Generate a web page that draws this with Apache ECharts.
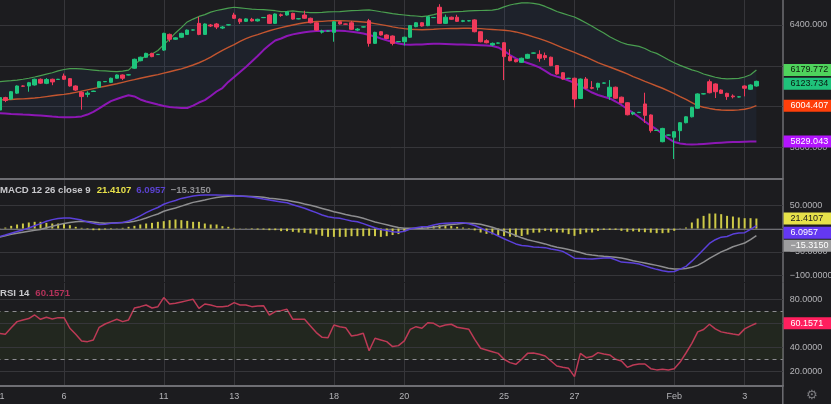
<!DOCTYPE html>
<html><head><meta charset="utf-8">
<script src="https://cdn.jsdelivr.net/npm/echarts@6/dist/echarts.min.js"></script>
<style>html,body{margin:0;padding:0;background:#1c1c1f;}#c{width:831px;height:404px;}</style>
</head><body><div id="c"></div>
<script>
// ---------- data ----------
const tickLabels = ['1','6','11','13','18','20','25','27','Feb','3'];
const tickIndex  = [0,11,28,40,57,69,86,98,115,127];

const openP = [5983,6044,6037,6066,6101,6101,6106,6134,6114,6134,
 6133,6150,6137,6101,6070,6060,6074,6095,6122,6119,
 6139,6155,6155,6188,6225,6242,6261,6255,6277,6354,
 6330,6340,6354,6375,6408,6354,6400,6405,6385,6400,
 6449,6429,6418,6428,6420,6436,6449,6408,6450,6449,
 6457,6430,6449,6433,6411,6365,6370,6364,6416,6405,
 6411,6375,6390,6421,6310,6367,6351,6346,6318,6318,
 6340,6392,6411,6397,6436,6487,6408,6438,6438,6418,
 6420,6425,6367,6323,6302,6311,6313,6245,6230,6217,
 6237,6262,6256,6250,6242,6201,6166,6138,6139,6040,
 6135,6093,6095,6115,6049,6095,6046,6019,5964,5971,
 6013,5959,5883,5828,5860,5850,5882,5921,5950,5992,
 6062,6122,6111,6081,6065,6052,6047,6101,6085,6101];
const closeP = [6044,6030,6073,6101,6100,6117,6134,6115,6133,6121,
 6134,6134,6101,6081,6049,6066,6076,6122,6123,6139,
 6155,6139,6156,6232,6242,6261,6245,6256,6359,6330,
 6337,6359,6375,6376,6354,6405,6395,6390,6390,6401,
 6433,6416,6430,6420,6428,6437,6408,6454,6447,6465,
 6429,6431,6433,6411,6375,6370,6371,6416,6405,6404,
 6379,6380,6391,6310,6364,6351,6334,6310,6319,6340,
 6397,6411,6395,6441,6437,6408,6438,6428,6418,6421,
 6421,6367,6318,6313,6310,6312,6245,6225,6220,6237,
 6256,6263,6237,6240,6201,6160,6135,6139,6037,6135,
 6090,6090,6114,6116,6095,6041,6019,5960,5970,5972,
 5957,5882,5884,5893,5861,5877,5921,5950,5996,6062,
 6063,6068,6073,6065,6049,6048,6048,6090,6106,6123.734];
const lowP = [5975,6022,6032,6062,6097,6073,6103,6111,6110,6105,
 6131,6131,6098,6077,5985,6046,6072,6092,6120,6116,
 6136,6130,6153,6185,6222,6239,6242,6253,6273,6318,
 6327,6337,6351,6373,6350,6351,6390,6380,6380,6398,
 6430,6405,6415,6417,6417,6434,6405,6405,6440,6446,
 6426,6428,6430,6408,6372,6358,6368,6318,6402,6402,
 6376,6370,6388,6294,6307,6348,6331,6300,6316,6300,
 6337,6389,6392,6394,6434,6405,6405,6425,6415,6414,
 6418,6364,6315,6310,6296,6309,6130,6222,6217,6214,
 6234,6260,6220,6228,6198,6157,6132,6136,5996,6037,
 6087,6085,6080,6113,6033,6038,6016,5957,5958,5969,
 5920,5872,5881,5825,5858,5743,5830,5918,5947,5989,
 6060,6065,6042,6062,6033,6040,6045,6050,6082,6098];
const highP = [6048,6048,6076,6104,6104,6121,6137,6138,6140,6137,
 6136,6162,6140,6104,6075,6075,6078,6125,6125,6142,
 6158,6158,6158,6235,6245,6264,6264,6258,6362,6358,
 6340,6362,6378,6378,6440,6408,6405,6410,6395,6403,
 6460,6432,6433,6435,6431,6439,6452,6457,6456,6468,
 6460,6433,6470,6436,6414,6377,6373,6419,6419,6407,
 6420,6385,6393,6430,6367,6370,6354,6349,6321,6343,
 6400,6414,6414,6444,6439,6502,6451,6441,6450,6425,
 6423,6428,6370,6330,6314,6314,6316,6281,6233,6240,
 6259,6265,6276,6265,6245,6204,6169,6141,6142,6138,
 6145,6125,6117,6118,6130,6098,6049,6022,5976,5974,
 6068,5962,5886,5896,5863,5880,5924,5953,5999,6065,
 6065,6133,6114,6084,6068,6060,6050,6104,6109,6127];

const bbUpper = [6122,6125,6127,6130,6134,6139,6145,6152,6159,6166,
 6175,6182,6186,6186,6185,6182,6179,6176,6175,6173,
 6171,6174,6179,6207,6228,6250,6258,6275,6304,6331,
 6361,6387,6415,6429,6442,6451,6463,6471,6477,6483,
 6487,6484,6481,6478,6476,6475,6473,6470,6466,6467,
 6469,6466,6463,6461,6461,6462,6464,6465,6466,6468,
 6470,6471,6473,6474,6470,6465,6461,6456,6452,6449,
 6446,6444,6441,6445,6451,6458,6462,6464,6466,6467,
 6469,6470,6471,6472,6473,6478,6489,6498,6504,6508,
 6509,6506,6501,6491,6479,6466,6457,6448,6439,6425,
 6410,6394,6377,6361,6342,6328,6314,6305,6300,6295,
 6285,6270,6261,6246,6230,6215,6202,6191,6180,6172,
 6160,6152,6144,6138,6136,6137,6138,6145,6156,6179.772];
const bbMiddle = [6032,6034,6035,6037,6038,6040,6042,6045,6049,6053,
 6057,6060,6064,6070,6076,6082,6088,6094,6100,6106,
 6112,6119,6126,6132,6139,6145,6151,6157,6164,6171,
 6178,6185,6194,6204,6215,6228,6243,6260,6276,6290,
 6304,6320,6333,6344,6353,6363,6372,6380,6387,6394,
 6400,6406,6411,6415,6417,6418,6420,6421,6421,6420,
 6419,6417,6415,6412,6407,6402,6397,6391,6386,6382,
 6379,6378,6377,6378,6379,6381,6382,6383,6383,6384,
 6384,6383,6382,6380,6378,6376,6374,6371,6366,6359,
 6351,6342,6333,6323,6312,6300,6288,6277,6266,6254,
 6242,6229,6216,6205,6194,6183,6172,6160,6147,6136,
 6124,6113,6101,6090,6077,6064,6049,6035,6020,6005,
 5997,5991,5986,5983,5982,5982,5984,5987,5994,6004.407];
const bbLower = [5967,5966,5964,5963,5961,5960,5958,5956,5954,5951,
 5949,5948,5948,5949,5952,5961,5974,5991,6010,6027,
 6037,6047,6056,6050,6035,6025,6018,6010,6003,5998,
 5995,5993,5993,6005,6020,6032,6052,6074,6091,6121,
 6145,6170,6194,6221,6248,6277,6302,6324,6334,6346,
 6354,6360,6365,6368,6370,6371,6372,6372,6372,6370,
 6367,6363,6358,6351,6344,6334,6325,6317,6309,6304,
 6303,6304,6305,6307,6308,6308,6307,6306,6305,6304,
 6303,6302,6301,6299,6297,6290,6273,6253,6236,6224,
 6214,6204,6192,6175,6157,6147,6139,6128,6116,6101,
 6084,6069,6057,6048,6040,6025,6008,5988,5969,5949,
 5927,5907,5888,5866,5844,5826,5819,5815,5814,5815,
 5817,5819,5821,5823,5825,5826,5827,5828,5829,5829.043];

const macdLine = [-17.5,-14,-10,-6.5,-3,1,6,10.5,15.5,19,
 21.5,22.5,22.5,20.5,18,14,11,8.5,9,11,
 12,13,16,21,27,34,40,45,52,56.5,
 60,64.5,67,69.5,71,72,72,71.8,71.5,71,
 70.5,69.5,68.5,67.5,65.5,63,61,59,57,55,
 51,47,43.5,38.5,34,29,25,23,22,19,
 16,14.6,10.5,6,1.5,-2,-4.5,-6.8,-8,-6,
 -1,1.5,3.9,4.5,7.5,10,11.3,12,12.4,12.5,
 10,6.5,1,-5,-10,-16,-22,-27.5,-33,-36.5,
 -37.5,-39.5,-40.3,-41,-44,-46,-49,-56,-63.5,-64,
 -64.8,-65.2,-64,-63,-62.6,-67,-72,-73,-74,-76,
 -80,-84,-87.5,-90.5,-92.5,-92,-87,-81,-70,-58,
 -45,-32,-24,-18.5,-17,-12,-9.5,-9,-2,6.0957];
const macdSignal = [-18.5,-15.5,-12.5,-10,-8,-6,-4,-2,1.5,5,
 8,10.5,13,14.5,15.5,15,14,12.5,11.5,12,
 12.5,13,13.5,15.5,18.5,22.5,27,31,37,40.5,
 44,48,52,56,58.5,61,64,66.5,68,69,
 69.5,69.5,69,68.5,68,66.8,65,63.5,62,60.5,
 58,55.5,52.5,50,46.5,43,39.5,36,33,30,
 27.5,25.3,22,18,14,11,8,5,2,0.4,
 0.4,0.5,0.8,1.5,3,5,7,8.5,9.5,11,
 11.5,10.5,9,6,2.5,-1.5,-5.5,-10,-15,-20,
 -24,-27,-30,-33,-37,-40,-42.4,-45,-48,-51.5,
 -55,-57,-58.5,-59.5,-60.4,-61.5,-63,-66,-69,-71.5,
 -74,-76.5,-79,-82,-85,-86.5,-86.5,-85.5,-83,-79,
 -72,-64,-57,-50,-45,-39,-35,-31,-24,-15.315];
const macdHist = [0.5,2,5.7,8.6,10.7,12.9,14.3,14.3,12.1,10.7,
 10.7,10.7,7.1,3.6,1.4,-1.4,-3.6,-3.6,-2.1,-1.4,
 0.5,1.4,3.6,5.7,8.6,10.7,12.1,14.3,15.7,17.9,
 19.3,17.9,16.4,14.3,14.3,10.7,8.6,8.6,5,3.6,
 1.4,0.5,-0.5,-1.4,-2.1,-2.1,-3.6,-3.6,-5.7,-5.7,
 -7.1,-8.6,-9.3,-10.7,-12.9,-15.7,-17.9,-17.9,-17.9,-17.9,
 -16.4,-16.4,-16.4,-15.7,-16.4,-17.9,-16.4,-14,-12,-7,
 -2,1,3.6,5,5.7,7,7,5.7,3.6,2,
 1,-4,-8.6,-11.5,-12.5,-15,-16,-17.5,-18,-16,
 -13,-9,-8.6,-5,-6.4,-8.6,-8.6,-12.1,-15.7,-12.1,
 -8.6,-8.6,-5,-2.9,-2.9,-2.9,-5,-7,-6,-7,
 -8,-9,-10,-10,-9,-5,0.5,2.1,12.9,21.4,
 27.1,32.1,32.1,30.7,27.1,25.7,23.6,22.1,22.1,21.4107];
const rsi = [51.8,51,56.5,61.5,62.9,64,67,63.4,65.1,63.7,
 64.8,64.8,56,51,45.5,44.9,46.3,56.8,59.5,61.5,
 63.4,61.5,62.9,72.8,73.9,75.3,72.8,73.9,81.4,76.1,
 76.7,77.8,78.9,80,72.5,76.1,75.3,73.9,73.9,74.5,
 77.2,75.3,75.3,73.9,74.5,74.7,67,69.8,70.6,71.7,
 63.4,63.4,63.4,57.9,52.4,48.5,48.2,58.7,57.3,56.5,
 49.6,50.4,51.8,37.4,47.7,46.3,44.9,40.8,41.6,45.5,
 55.1,57.3,56,60.6,60.1,57.3,58.7,59.3,56.8,56,
 55.1,46.8,39.4,38,36.6,35.2,30.3,27.5,26.1,30.3,
 35.2,35.5,34.4,33,28.9,24.7,23.6,22.8,15.9,35.2,
 31.6,32.5,35.8,34.7,33.9,30.3,28.9,23.6,25.6,26.4,
 26.4,22.5,21.5,22,21.4,22.5,28,35.5,43.5,53,
 55,59.3,55.5,53,52,51.2,50.5,55.5,58,60.1571];

const priceLevels = [5800,6000,6200,6400];
const macdLevels  = [50,0,-50,-100];
const rsiLevels   = [20,40,60,80];
const rsiBand     = [30,70];

// ---------- helpers ----------
const SLOTS = 134;
const cats = Array.from({length: SLOTS}, (_, i) => String(i));
const candles = openP.map((o, i) => [o, closeP[i], lowP[i], highP[i]]);
const bbWidth = bbUpper.map((u, i) => u - bbLower[i]);
const last = closeP.length - 1;
function fmt(v, d) { return (v < 0 ? '\u2212' : '') + Math.abs(v).toFixed(d); }

const BG = '#1c1c1f', GRIDC = '#36363a', SEP = '#6e6e73', AXT = '#b4b4b8';
const FONT = '"Liberation Sans", Arial, sans-serif';
const UP = '#1ec47c', DOWN = '#f03a5b';
const L = -3.48, R = 48.2;

const grids = [
  {left: L, right: R, top: 0, height: 179},
  {left: L, right: R, top: 180, height: 102},
  {left: L, right: R, top: 283, height: 102.5}
].map(g => Object.assign(g, {containLabel: false, outerBoundsMode: 'none'}));

const yRanges = [[5645.1, 6522.55], [-114.6, 103.9], [8.56, 93.5]];

const xAxes = [0,1,2].map(i => ({
  type: 'category', gridIndex: i, data: cats, boundaryGap: true,
  axisLine: {show: true, lineStyle: {color: SEP, width: 2}},
  axisTick: {show: false},
  axisLabel: i === 2 ? {
    show: true, interval: (idx) => tickIndex.indexOf(idx) >= 0, margin: 7,
    color: AXT, fontSize: 9, fontFamily: FONT,
    formatter: (v, idx) => { const j = tickIndex.indexOf(Number(v)); if (j < 0) return ''; return j === 0 ? '{f|' + tickLabels[j] + '}' : tickLabels[j]; },
    rich: {f: {padding: [0,0,0,5], color: AXT, fontSize: 9, fontFamily: FONT}}
  } : {show: false},
  splitLine: {show: true, alignWithLabel: true, interval: (idx) => tickIndex.indexOf(idx) > 0, lineStyle: {color: GRIDC, width: 1}}
}));

const yAxes = [0,1,2].map(i => ({
  type: 'value', gridIndex: i, position: 'right', min: yRanges[i][0], max: yRanges[i][1], scale: true,
  axisLine: {show: true, lineStyle: {color: SEP, width: 1.5}},
  axisTick: {show: false}, axisLabel: {show: false}, splitLine: {show: false}
}));

function gridMarks(levels, digits, hidden) {
  return {
    silent: true, symbol: ['none','none'], z: 1, animation: false,
    lineStyle: {color: GRIDC, width: 1, type: 'solid'},
    label: {show: true, position: 'end', distance: 7, color: AXT, fontSize: 9, fontFamily: FONT,
            formatter: p => fmt(p.value, digits)},
    emphasis: {disabled: true},
    data: levels.map(v => (hidden && hidden.indexOf(v) >= 0) ? {yAxis: v, label: {show: false}} : {yAxis: v})
  };
}
function plainLine(name, xi, data, color, width, z) {
  return {name, type: 'line', xAxisIndex: xi, yAxisIndex: xi, data, symbol: 'none', silent: true,
          lineStyle: {color, width}, z: z || 3, animation: false};
}

const series = [
  {id: 'g0', type: 'line', xAxisIndex: 0, yAxisIndex: 0, data: closeP, symbol: 'none', silent: true,
   lineStyle: {opacity: 0}, z: 0, markLine: gridMarks(priceLevels, 3)},
  {type: 'line', xAxisIndex: 0, yAxisIndex: 0, data: bbLower, stack: 'bb', symbol: 'none', silent: true,
   lineStyle: {opacity: 0}, z: 1},
  {type: 'line', xAxisIndex: 0, yAxisIndex: 0, data: bbWidth, stack: 'bb', symbol: 'none', silent: true,
   lineStyle: {opacity: 0}, areaStyle: {color: 'rgba(55,95,160,0.14)', origin: 'start'}, z: 1},
  plainLine('upper', 0, bbUpper, '#4a9f50', 1.2, 3),
  plainLine('basis', 0, bbMiddle, '#c2552f', 1.4, 3),
  plainLine('lower', 0, bbLower, '#8d17b5', 2, 3),
  {type: 'candlestick', xAxisIndex: 0, yAxisIndex: 0, data: candles, barWidth: 4, silent: true, z: 4,
   itemStyle: {color: UP, color0: DOWN, borderColor: UP, borderColor0: DOWN, borderWidth: 1}},
  {id: 'g1', type: 'line', xAxisIndex: 1, yAxisIndex: 1, data: macdLine, symbol: 'none', silent: true,
   lineStyle: {opacity: 0}, z: 0, markLine: gridMarks(macdLevels, 4)},
  {type: 'bar', xAxisIndex: 1, yAxisIndex: 1, data: macdHist, barWidth: 2, silent: true,
   itemStyle: {color: '#cdc947'}, z: 2},
  plainLine('signal', 1, macdSignal, '#8e8e90', 1.5, 3),
  plainLine('macd', 1, macdLine, '#5b40da', 1.5, 4),
  {id: 'g2', type: 'line', xAxisIndex: 2, yAxisIndex: 2, data: rsi, symbol: 'none', silent: true,
   lineStyle: {opacity: 0}, z: 0, markLine: gridMarks(rsiLevels, 4),
   markArea: {silent: true, itemStyle: {color: 'rgba(70,100,30,0.16)'},
              data: [[{yAxis: rsiBand[0]}, {yAxis: rsiBand[1]}]]}},
  {type: 'line', xAxisIndex: 2, yAxisIndex: 2, data: [], symbol: 'none', silent: true,
   markLine: {silent: true, symbol: ['none','none'], label: {show: false}, emphasis: {disabled: true},
              lineStyle: {color: '#8c8c90', width: 1, type: [4, 4]},
              data: rsiBand.map(v => ({yAxis: v}))}},
  plainLine('rsi', 2, rsi, '#bd3a56', 1.5, 4)
];

const title = [
  {left: 0, top: 185, padding: 0,
   text: '{a|MACD 12 26 close 9}{b|21.4107}{c|6.0957}{d|\u221215.3150}',
   textStyle: {rich: {
     a: {color: '#c8c8cc', fontSize: 9.6, fontFamily: FONT},
     b: {color: '#e6e04a', fontSize: 9.6, fontFamily: FONT, fontWeight: 'bold', padding: [0,0,0,6]},
     c: {color: '#5a42cf', fontSize: 9.6, fontFamily: FONT, padding: [0,0,0,5]},
     d: {color: '#8e8e92', fontSize: 9.6, fontFamily: FONT, padding: [0,0,0,5]}
   }}},
  {left: 0, top: 288.5, padding: 0,
   text: '{a|RSI 14}{b|60.1571}',
   textStyle: {rich: {
     a: {color: '#c8c8cc', fontSize: 9.6, fontFamily: FONT},
     b: {color: '#b3325a', fontSize: 9.6, fontFamily: FONT, padding: [0,0,0,6]}
   }}}
];

const chart = echarts.init(document.getElementById('c'), null, {renderer: 'canvas'});
chart.setOption({
  backgroundColor: BG, animation: false,
  grid: grids, xAxis: xAxes, yAxis: yAxes, series, title,
  tooltip: {show: false}, legend: {show: false}
});

// value boxes on the scales, positioned through each axis scale
const boxes = [
  {axis: 0, value: bbUpper[last],   d: 3, bg: '#4fd35c', fg: '#0e1a0e', shift: 0},
  {axis: 0, value: closeP[last],    d: 3, bg: '#1fc27a', fg: '#0b1a12', shift: 2.3},
  {axis: 0, value: bbMiddle[last],  d: 3, bg: '#ff3f0a', fg: '#ffffff', shift: 0},
  {axis: 0, value: bbLower[last],   d: 3, bg: '#b314ff', fg: '#ffffff', shift: 0},
  {axis: 1, value: macdHist[last],  d: 4, bg: '#e6e24a', fg: '#1a1a1a', shift: 0},
  {axis: 1, value: macdLine[last],  d: 4, bg: '#6438f2', fg: '#ffffff', shift: 7},
  {axis: 1, value: macdSignal[last],d: 4, bg: '#9d9d9f', fg: '#ffffff', shift: 10.2},
  {axis: 2, value: rsi[last],       d: 4, bg: '#ff1f5e', fg: '#ffffff', shift: 0}
];
boxes.forEach(b => { b.y = chart.convertToPixel({yAxisIndex: b.axis}, b.value) + b.shift; });

// hide scale labels that a value box overlaps (as the trading view does)
const levelSets = [priceLevels, macdLevels, rsiLevels];
const hiddenSets = levelSets.map((lv, ax) => lv.filter(v => {
  const py = chart.convertToPixel({yAxisIndex: ax}, v);
  return boxes.some(b => b.axis === ax && Math.abs(b.y - py) < 5);
}));

const W = chart.getWidth(), H = chart.getHeight();
const edge = W - R;
const graphics = boxes.map(b => ({type: 'text', x: edge + 0.8, y: b.y, z: 100, silent: true,
  style: {text: fmt(b.value, b.d), fill: b.fg, backgroundColor: b.bg,
          padding: [1, 2, 1, 7], width: 38.5, lineHeight: 10,
          font: '9px ' + FONT, verticalAlign: 'middle', align: 'left'}}));
graphics.push({type: 'line', silent: true, z: 50,
  shape: {x1: edge, y1: 385, x2: edge, y2: H}, style: {stroke: SEP, lineWidth: 1.5}});
graphics.push({type: 'text', silent: true, z: 50, x: edge + 29, y: 396,
  style: {text: '\u2699', fill: '#7c7c80', font: '13px "DejaVu Sans", sans-serif', align: 'center', verticalAlign: 'middle'}});

chart.setOption({
  graphic: graphics,
  series: [
    {id: 'g0', markLine: gridMarks(priceLevels, 3, hiddenSets[0])},
    {id: 'g1', markLine: gridMarks(macdLevels, 4, hiddenSets[1])},
    {id: 'g2', markLine: gridMarks(rsiLevels, 4, hiddenSets[2])}
  ]
});
</script>
</body></html>
